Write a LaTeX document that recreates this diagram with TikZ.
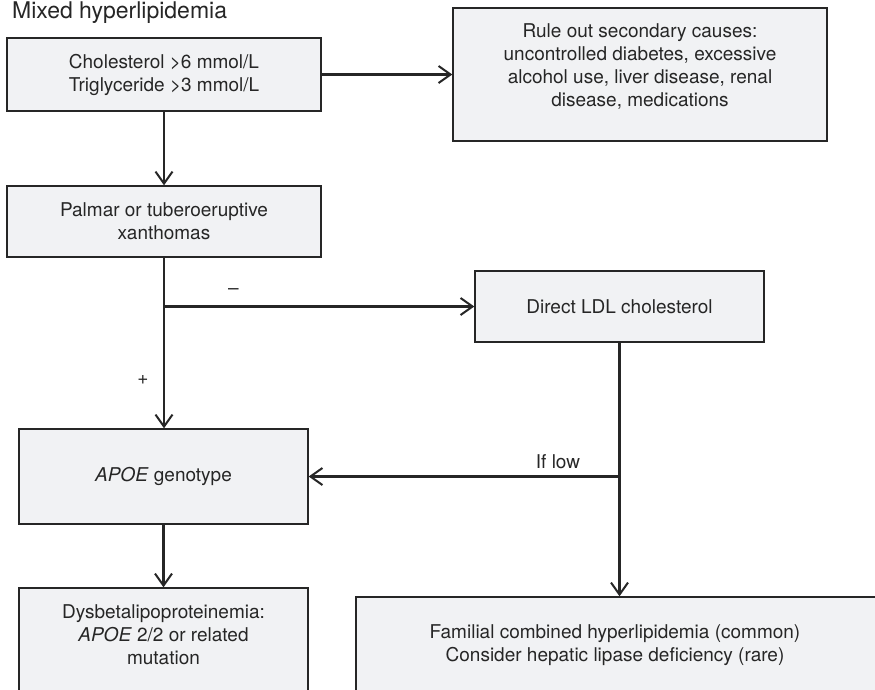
\documentclass[tikz,border=0pt]{standalone}
\usepackage{fontspec}
\setmainfont{TeX Gyre Heros}
\usetikzlibrary{arrows.meta}
\definecolor{boxfill}{HTML}{F1F2F4}
\definecolor{ink}{HTML}{262626}
\begin{document}
\begin{tikzpicture}[x=1pt,y=-1pt,
  box/.style={draw=ink, line width=1.4pt, fill=boxfill, rectangle, inner sep=0pt},
  txt/.style={align=center, inner sep=0pt, text=ink, font=\fontsize{19}{23}\selectfont},
  conn/.style={draw=ink, line width=2.3pt, -{Straight Barb[length=12pt,width=17pt,line width=2pt]}}]
  \clip (0,0) rectangle (875,689);
  \fill[white] (0,0) rectangle (875,689);

  % heading
  \node[anchor=base west, inner sep=0pt, text=ink, font=\fontsize{23}{28}\selectfont] (title) at (12,18) {Mixed hyperlipidemia};

  % boxes
  \node[box, txt, minimum width=314pt, minimum height=73pt] (b1) at (164,74.5)
    {Cholesterol >6 mmol/L\\Triglyceride >3 mmol/L};
  \node[box, minimum width=374pt, minimum height=133pt] (b2) at (640,74.5) {};
  \node[txt] (b2t) at (640,66)
    {Rule out secondary causes:\\uncontrolled diabetes, excessive\\alcohol use, liver disease, renal\\disease, medications};
  \node[box, txt, minimum width=314pt, minimum height=71pt] (b3) at (164,221.5)
    {Palmar or tuberoeruptive\\xanthomas};
  \node[box, txt, minimum width=289pt, minimum height=71pt] (b5) at (619.5,306.5)
    {Direct LDL cholesterol};
  \node[box, txt, minimum width=289pt, minimum height=95pt] (b4) at (163.5,476.5)
    {\textit{APOE} genotype};
  \node[box, minimum width=289pt, minimum height=132pt] (b6) at (163.5,654) {};
  \node[txt] (b6t) at (163.5,634.5)
    {Dysbetalipoproteinemia:\\\textit{APOE} 2/2 or related\\mutation};
  \node[box, minimum width=544pt, minimum height=123pt] (b7) at (628,658.5) {};
  \node[txt] (b7t) at (615,645)
    {Familial combined hyperlipidemia (common)\\Consider hepatic lipase deficiency (rare)};

  % connectors
  \draw[conn] (b1.east) -- (b2.west);
  \draw[conn] (b1.south) -- (b1.south |- b3.north);
  \draw[conn] (b3.south) -- (b3.south |- b4.north);
  \coordinate (j1) at (b3.south |- b5.west);
  \draw[conn] (j1) -- (b5.west);
  \draw[conn] (b4.south) -- (b4.south |- b6.north);
  \draw[conn] (b5.south) -- (b5.south |- b7.north);
  \coordinate (j2) at (b5.south |- b4.east);
  \draw[conn] (j2) -- (b4.east);

  % branch labels
  \node[txt] (minus) at (233.5,292) {–};
  \node[txt] (plus) at (143,380) {+};
  \node[txt] (iflow) at (558,462) {If low};
\end{tikzpicture}
\end{document}
